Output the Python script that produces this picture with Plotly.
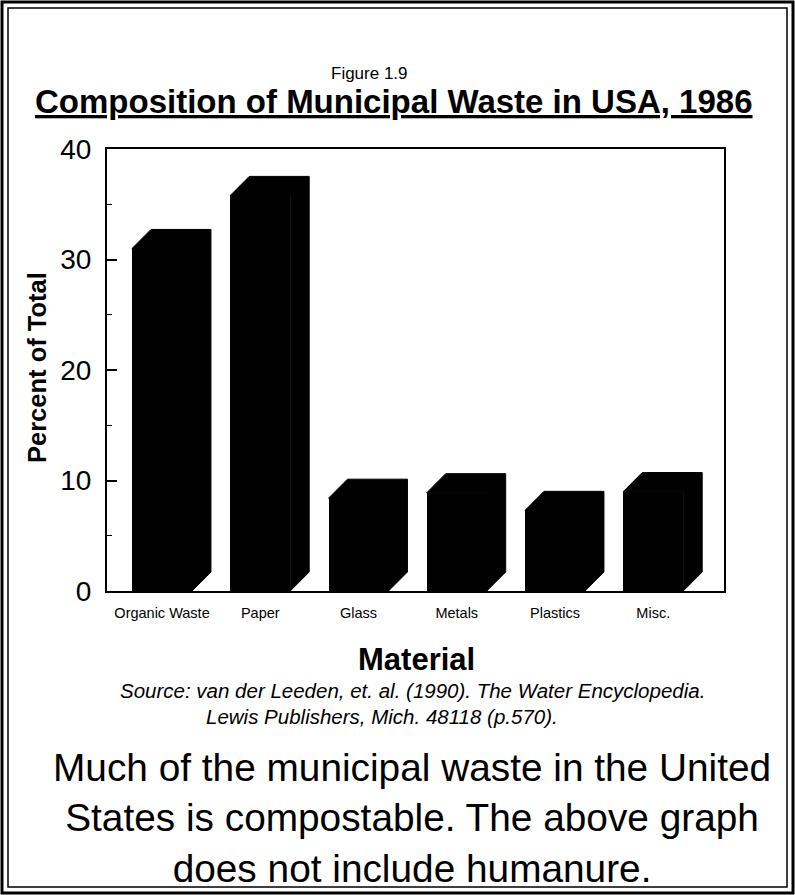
import plotly.graph_objects as go

# ---- data ----
categories = ["Organic Waste", "Paper", "Glass", "Metals", "Plastics", "Misc."]
percent = [31.0, 35.8, 8.4, 8.9, 7.3, 9.0]
y_ticks = [0, 10, 20, 30, 40]

# ---- geometry (figure pixels) ----
W, H = 795, 895
L, R, T, B = 107, 724, 149, 591  # plot area box in pixels

def px(x):
    return (x - L) / (R - L)

def py(y):
    return (B - y) / (B - T)

xs = list(range(len(categories)))
bar_w = 0.61
dx = 0.193   # depth offset in category units
dy = 1.72    # depth offset in value units

fig = go.Figure()

# front faces
fig.add_trace(go.Bar(x=xs, y=percent, width=bar_w, marker=dict(color="black", line=dict(width=0)),
                     hoverinfo="skip", showlegend=False))

# 3D extrusion (top + side) as filled polygons built from the values
poly_x, poly_y = [], []
for i, v in zip(xs, percent):
    x0, x1 = i - bar_w / 2, i + bar_w / 2
    poly_x += [x0, x0 + dx, x1 + dx, x1 + dx, x1, x1, x0, None]
    poly_y += [v, v + dy, v + dy, dy, 0, v, v, None]
fig.add_trace(go.Scatter(x=poly_x, y=poly_y, mode="lines", fill="toself", fillcolor="black",
                         line=dict(color="black", width=1), hoverinfo="skip", showlegend=False))

fig.update_layout(
    width=W, height=H,
    margin=dict(l=L, r=W - R, t=T, b=H - B, pad=0),
    paper_bgcolor="white", plot_bgcolor="white",
    font=dict(family="Liberation Sans, Arial, sans-serif", color="black"),
    bargap=0,
)
fig.update_xaxes(
    range=[-0.56, 5.72], tickmode="array", tickvals=xs, ticktext=categories,
    tickfont=dict(size=14.5), showgrid=False, zeroline=False, ticks="",
    showline=True, linecolor="black", linewidth=2, mirror=True, ticklabelstandoff=8,
)
fig.update_yaxes(
    range=[0, 40], tickmode="array", tickvals=y_ticks, tickfont=dict(size=28),
    ticks="inside", ticklen=10, tickwidth=1.5, tickcolor="black",
    minor=dict(dtick=5, ticks="inside", ticklen=5, tickwidth=1, tickcolor="black"),
    showgrid=False, zeroline=False, showline=True, linecolor="black", linewidth=2, mirror=True,
    ticklabelstandoff=8,
)

def ann(text, x, y, size, **kw):
    fig.add_annotation(text=text, x=px(x), y=py(y), xref="paper", yref="paper",
                       showarrow=False, font=dict(size=size, color="black"),
                       xanchor="center", yanchor="middle", **kw)

ann("Figure 1.9", 369, 74, 17)
ann("<b><u>Composition of Municipal Waste in USA, 1986</u></b>", 394, 102, 33)
ann("<b>Percent of Total</b>", 37, 368, 25.5, textangle=-90)
ann("<b>Material</b>", 416, 659, 31)
ann("<i>Source: van der Leeden, et. al. (1990). The Water Encyclopedia.</i>", 412, 690, 20.5)
ann("<i>Lewis Publishers, Mich. 48118 (p.570).</i>", 382, 716, 20.5)
ann("Much of the municipal waste in the United<br>States is compostable. The above graph<br>does not include humanure.",
    412, 818, 38.8)

# double frame around the figure
for inset, lw in [(2, 3), (8, 1.5)]:
    fig.add_shape(type="rect", xref="paper", yref="paper",
                  x0=px(inset), x1=px(W - inset), y0=py(H - inset), y1=py(inset),
                  line=dict(color="black", width=lw), fillcolor="rgba(0,0,0,0)", layer="above")

fig.write_html("out.html", config={"displayModeBar": False},
               post_script="document.body.style.margin='0';document.body.style.padding='0';")
